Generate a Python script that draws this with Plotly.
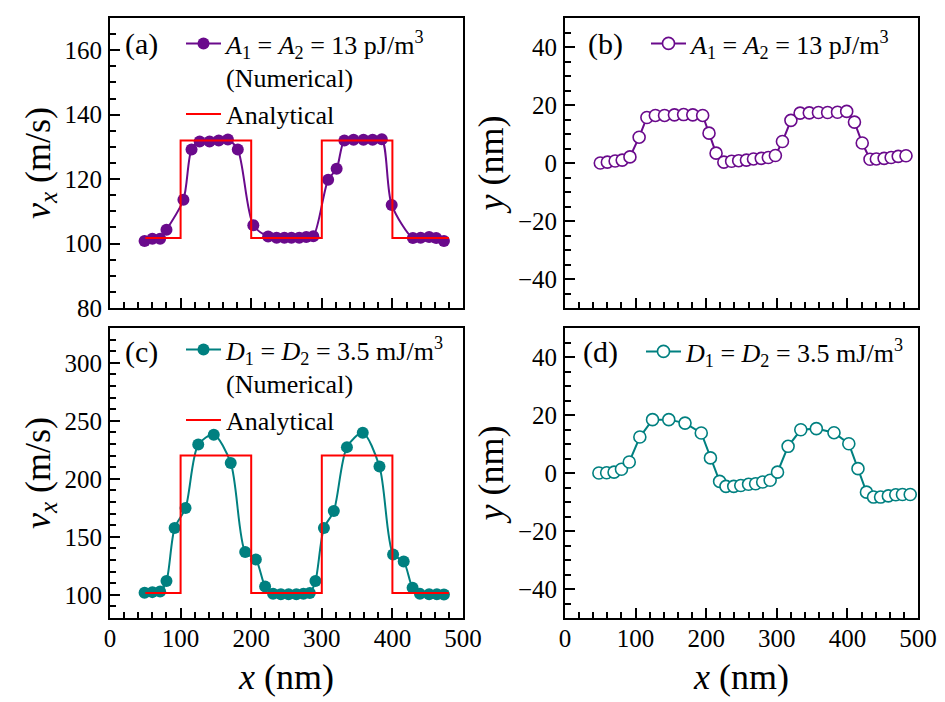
import plotly.graph_objects as go

# ---------------- data ----------------
# (a) numerical velocity, A1=A2
xa = [49, 60, 71, 80, 104, 115.5, 127, 141, 154, 167, 181, 203, 224, 236, 247, 257, 268, 278, 288,
      309, 321, 332, 345, 359, 372, 385, 399, 429, 440, 452, 462, 473]
ya = [100.8, 101.5, 101.5, 104.3, 113.6, 129.2, 131.7, 131.7, 132.0, 132.3, 129.2, 105.7, 102.2, 101.8,
      101.8, 101.8, 101.8, 102.0, 102.3, 119.8, 123.2, 132.0, 132.2, 132.2, 132.2, 132.4, 112.0, 101.7,
      101.8, 102.0, 101.7, 100.8]

# analytical step positions
x_step = [50, 100, 200, 300, 400, 480]
ya_an = [101.7, 132.0, 101.7, 132.0, 101.7, 101.7]

# (b) y position, A1=A2
xb = [50, 60, 71, 81, 92, 105, 116, 128, 141, 155, 168, 181, 195, 204, 214, 225, 236, 246, 257, 267,
      278, 288, 298, 308, 320, 333, 346, 359, 372, 386, 399, 410, 421, 432, 441, 452, 462, 472, 483]
yb = [0.0, 0.3, 0.7, 1.0, 2.1, 8.9, 15.7, 16.4, 16.4, 16.6, 16.7, 16.6, 16.4, 10.3, 3.4, 0.3, 0.6, 0.8,
      1.0, 1.4, 1.6, 1.9, 2.6, 7.4, 14.7, 17.2, 17.3, 17.4, 17.4, 17.5, 17.8, 14.1, 6.9, 1.3, 1.4, 1.6,
      1.9, 2.3, 2.5]

# (c) numerical velocity, D1=D2
xc = [49, 60, 71, 80, 91.5, 107, 125, 147, 171, 191.5, 206.6, 219.7, 231, 242, 253, 264, 274, 283, 291,
      303, 317, 335.6, 358, 381.7, 401, 416, 428.6, 439, 452, 463, 473]
yc = [101.7, 102.3, 102.8, 111.8, 157.5, 174.8, 229.5, 238.0, 213.7, 136.8, 130.5, 107.2, 100.9, 100.5,
      100.5, 100.5, 101.0, 101.5, 111.8, 157.5, 172.2, 227.3, 239.6, 210.6, 134.8, 128.7, 106.0, 100.8,
      100.5, 100.5, 100.3]
yc_an = [101.5, 220.0, 101.5, 220.0, 101.5, 101.5]

# (d) y position, D1=D2
xd = [48, 59, 69.5, 80, 91, 106, 124, 147, 170, 193, 206, 219, 228, 239, 249, 260, 270, 280, 290.6,
      301, 316, 334, 356, 381, 402, 415, 427, 437, 447, 458, 468.5, 478, 489]
yd = [0.0, 0.1, 0.3, 1.3, 3.8, 12.4, 18.4, 18.4, 17.2, 13.8, 5.2, -2.9, -4.6, -4.6, -4.3, -3.9, -3.7,
      -3.1, -2.5, 0.3, 9.2, 14.9, 15.3, 13.9, 10.1, 1.5, -6.6, -8.3, -8.3, -7.9, -7.5, -7.4, -7.4]

x_ticks = [0, 100, 200, 300, 400, 500]
ya_ticks = [80, 100, 120, 140, 160]
yc_ticks = [100, 150, 200, 250, 300]
ypos_ticks = [-40, -20, 0, 20, 40]

PURPLE = '#6a0a8c'
TEAL = '#008080'
RED = '#ff0000'
FONT = 'Liberation Serif'

nameA = '<i>A</i><sub>1</sub> = <i>A</i><sub>2</sub> = 13 pJ/m<sup>3</sup>'
nameD = '<i>D</i><sub>1</sub> = <i>D</i><sub>2</sub> = 3.5 mJ/m<sup>3</sup>'

fig = go.Figure()

fig.add_trace(go.Scatter(x=xa, y=ya, mode='lines+markers', xaxis='x', yaxis='y',
                         line=dict(color=PURPLE, width=2, shape='spline', smoothing=0.8),
                         marker=dict(color=PURPLE, size=12),
                         name=nameA + '<br>(Numerical)', legend='legend'))
fig.add_trace(go.Scatter(x=x_step, y=ya_an, mode='lines', xaxis='x', yaxis='y',
                         line=dict(color=RED, width=2, shape='hv'),
                         name='Analytical', legend='legend'))
fig.add_trace(go.Scatter(x=xb, y=yb, mode='lines+markers', xaxis='x2', yaxis='y2',
                         line=dict(color=PURPLE, width=2),
                         marker=dict(color='white', size=12, line=dict(color=PURPLE, width=1.6)),
                         name=nameA, legend='legend2'))
fig.add_trace(go.Scatter(x=xc, y=yc, mode='lines+markers', xaxis='x3', yaxis='y3',
                         line=dict(color=TEAL, width=2, shape='spline', smoothing=0.8),
                         marker=dict(color=TEAL, size=12),
                         name=nameD + '<br>(Numerical)', legend='legend3'))
fig.add_trace(go.Scatter(x=x_step, y=yc_an, mode='lines', xaxis='x3', yaxis='y3',
                         line=dict(color=RED, width=2, shape='hv'),
                         name='Analytical', legend='legend3'))
fig.add_trace(go.Scatter(x=xd, y=yd, mode='lines+markers', xaxis='x4', yaxis='y4',
                         line=dict(color=TEAL, width=2),
                         marker=dict(color='white', size=12, line=dict(color=TEAL, width=1.6)),
                         name=nameD, legend='legend4'))

W, H = 945, 702
ML, MR, MT, MB = 110, 27, 18, 84
PW, PH = W - ML - MR, H - MT - MB


def px2x(px):
    return (px - ML) / PW


def py2y(py):
    return 1 - (py - MT) / PH


TITLE_FONT = dict(family=FONT, size=36, color='black')


def ax(**kw):
    d = dict(showline=True, linecolor='black', linewidth=2, mirror=True,
             ticks='inside', ticklen=10, tickwidth=2, tickcolor='black',
             showgrid=False, zeroline=False, automargin=False,
             tickfont=dict(family=FONT, size=25, color='black'))
    d.update(kw)
    return d


def minor(dt):
    return dict(ticks='inside', ticklen=6, tickwidth=1.5, dtick=dt, tickcolor='black')


def ttl(text, standoff):
    return dict(text=text, standoff=standoff, font=TITLE_FONT)


xdomL = [0, px2x(463)]
xdomR = [px2x(565), 1]
ydomT = [py2y(308), 1]
ydomB = [0, py2y(328)]

xcommon = dict(range=[0, 500], tickvals=x_ticks, minor=minor(20))

fig.update_layout(
    width=W, height=H,
    margin=dict(l=ML, r=MR, t=MT, b=MB),
    paper_bgcolor='white', plot_bgcolor='white',
    font=dict(family=FONT, size=24, color='black'),
    xaxis=ax(domain=xdomL, anchor='y', showticklabels=False, **xcommon),
    xaxis2=ax(domain=xdomR, anchor='y2', showticklabels=False, **xcommon),
    xaxis3=ax(domain=xdomL, anchor='y3', title=ttl('<i>x</i> (nm)', 13),
              ticklabelstandoff=-3, **xcommon),
    xaxis4=ax(domain=xdomR, anchor='y4', title=ttl('<i>x</i> (nm)', 13),
              ticklabelstandoff=-3, **xcommon),
    yaxis=ax(domain=ydomT, anchor='x', range=[80, 170], tickvals=ya_ticks, minor=minor(5),
             title=ttl('<i>v<sub>x</sub></i> (m/s)', 3), ticklabelstandoff=1),
    yaxis2=ax(domain=ydomT, anchor='x2', range=[-50, 50], tickvals=ypos_ticks, minor=minor(5),
              title=ttl('<i>y</i> (nm)', 3), ticklabelstandoff=1),
    yaxis3=ax(domain=ydomB, anchor='x3', range=[80, 330], tickvals=yc_ticks, minor=minor(10),
              title=ttl('<i>v<sub>x</sub></i> (m/s)', 3), ticklabelstandoff=1),
    yaxis4=ax(domain=ydomB, anchor='x4', range=[-50, 50], tickvals=ypos_ticks, minor=minor(5),
              title=ttl('<i>y</i> (nm)', 3), ticklabelstandoff=1),
)

leg_common = dict(xanchor='left', yanchor='top', bgcolor='rgba(0,0,0,0)', borderwidth=0,
                  font=dict(family=FONT, size=26, color='black'), valign='top',
                  itemwidth=35, tracegroupgap=0)
fig.update_layout(
    legend=dict(x=px2x(181), y=py2y(20), **leg_common),
    legend2=dict(x=px2x(646), y=py2y(20), **leg_common),
    legend3=dict(x=px2x(181), y=py2y(326), **leg_common),
    legend4=dict(x=px2x(641), y=py2y(328), **leg_common),
)

for lab, px, py in [('(a)', 123, 44), ('(b)', 586, 44), ('(c)', 123, 352), ('(d)', 581, 352)]:
    fig.add_annotation(text=lab, x=px2x(px), y=py2y(py), xref='paper', yref='paper',
                       xanchor='left', yanchor='middle', showarrow=False,
                       font=dict(family=FONT, size=30, color='black'))

fig.write_html('out.html', config={'displayModeBar': False},
               post_script="document.body.style.margin='0';")
